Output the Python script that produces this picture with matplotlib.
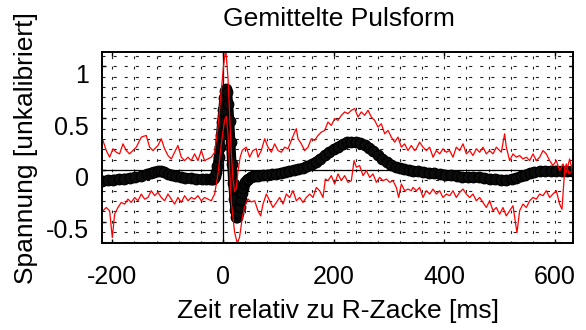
import numpy as np
import matplotlib
matplotlib.use("Agg")
import matplotlib.pyplot as plt
from matplotlib.transforms import ScaledTranslation

plt.rcParams['font.family'] = ['Liberation Sans', 'DejaVu Sans']
plt.rcParams['axes.unicode_minus'] = False
plt.rcParams['lines.scale_dashes'] = False

# averaged pulse (mean), time in ms relative to the R peak
t_mean = [-218, -208, -198, -188, -178, -168, -158, -148, -138, -130, -124, -118,
          -112, -106, -100, -92, -84, -76, -68, -58, -48, -38, -30, -24, -20, -18,
          -16, -14, -12, -10, -8, -6, -4, -2, 0, 2, 4, 6, 8, 10, 12, 14, 16, 18,
          20, 22, 24, 26, 28, 30, 32, 34, 36, 38, 40, 43, 46, 50, 54, 58, 64, 72,
          80, 88, 96, 104, 112, 120, 128, 136, 144, 152, 160, 168, 176, 184, 192,
          200, 208, 216, 224, 232, 240, 248, 256, 264, 272, 280, 288, 296, 304,
          312, 320, 328, 336, 344, 352, 362, 372, 382, 392, 402, 412, 422, 432,
          442, 452, 462, 472, 482, 492, 502, 512, 522, 530, 538, 546, 554, 562,
          572, 582, 592, 602, 612, 622, 630]
v_mean = [-0.104, -0.099, -0.093, -0.087, -0.083, -0.077, -0.070, -0.060, -0.042,
          -0.027, -0.016, -0.012, -0.015, -0.024, -0.035, -0.048, -0.060, -0.070,
          -0.075, -0.080, -0.085, -0.088, -0.090, -0.092, -0.092, -0.088, -0.078,
          -0.058, -0.02, 0.04, 0.12, 0.22, 0.34, 0.46, 0.58, 0.69, 0.76, 0.78, 0.75,
          0.64, 0.47, 0.27, 0.06, -0.13, -0.28, -0.39, -0.45, -0.45, -0.42, -0.36,
          -0.29, -0.22, -0.17, -0.14, -0.12, -0.10, -0.085, -0.07, -0.06, -0.058,
          -0.055, -0.05, -0.046, -0.042, -0.036, -0.03, -0.02, -0.01, 0.0, 0.01,
          0.02, 0.035, 0.055, 0.08, 0.11, 0.14, 0.17, 0.20, 0.225, 0.25, 0.265,
          0.272, 0.27, 0.262, 0.245, 0.215, 0.18, 0.145, 0.11, 0.075, 0.05, 0.03,
          0.015, 0.005, -0.002, -0.008, -0.014, -0.02, -0.027, -0.033, -0.04,
          -0.047, -0.053, -0.06, -0.065, -0.068, -0.07, -0.073, -0.078, -0.085,
          -0.09, -0.093, -0.095, -0.09, -0.075, -0.06, -0.045, -0.033, -0.022,
          -0.015, -0.01, -0.007, -0.006, -0.008, -0.01, -0.012]

# upper band (mean + spread)
t_upper = [-216.8, -210.8, -204.7, -198.7, -192.7, -186.7, -180.6, -174.6, -168.6,
           -162.6, -156.6, -147.5, -138.5, -132.5, -126.4, -117.4, -111.4, -105.4,
           -99.3, -93.3, -87.3, -81.3, -75.3, -69.2, -63.2, -57.2, -51.2, -45.2,
           -39.1, -33.1, -27.1, -21.1, -15.0, -9, -3, 1, 5, 9, 12, 15, 18, 21, 24,
           27, 31, 35, 42.2, 48.2, 54.2, 60.2, 63.3, 69.3, 75.4, 81.4, 87.4, 93.4,
           99.5, 105.5, 111.5, 117.5, 123.5, 129.6, 132.6, 135.6, 141.6, 147.6,
           153.7, 159.7, 165.7, 171.7, 177.7, 183.8, 189.8, 195.8, 201.8, 207.9,
           213.9, 219.9, 225.9, 232.0, 238.0, 244.0, 250.0, 256.0, 262.1, 268.1,
           274.1, 280.1, 286.1, 292.2, 298.2, 304.2, 310.2, 316.2, 322.3, 328.3,
           334.3, 340.3, 346.4, 349.3, 355.4, 361.4, 367.4, 373.4, 379.5, 385.5,
           391.5, 397.5, 403.5, 409.6, 415.6, 421.6, 427.6, 433.7, 439.7, 445.7,
           451.7, 457.7, 463.8, 469.8, 475.8, 481.8, 487.9, 493.9, 502.9, 508.9,
           511.9, 518.0, 524.0, 530.0, 536.0, 542.0, 548.1, 554.1, 560.1, 566.1,
           572.2, 578.2, 584.2, 590.2, 596.2, 602.3, 608.3, 614.3, 620.3, 626.4,
           631.2]
v_upper = [0.285, 0.187, 0.123, 0.204, 0.171, 0.155, 0.252, 0.187, 0.155, 0.187,
           0.220, 0.317, 0.333, 0.220, 0.187, 0.236, 0.301, 0.204, 0.139, 0.106,
           0.171, 0.236, 0.123, 0.090, 0.123, 0.090, 0.155, 0.090, 0.187, 0.090,
           0.106, 0.123, 0.17, 0.41, 0.76, 1.0, 1.17, 0.90, 0.55, 0.18, -0.08,
           -0.21, -0.18, -0.02, 0.12, 0.19, 0.220, 0.123, 0.187, 0.204, 0.123,
           0.187, 0.301, 0.220, 0.171, 0.252, 0.187, 0.171, 0.220, 0.204, 0.285,
           0.365, 0.398, 0.301, 0.252, 0.187, 0.220, 0.301, 0.285, 0.333, 0.365,
           0.382, 0.462, 0.430, 0.495, 0.479, 0.527, 0.560, 0.543, 0.576, 0.592,
           0.511, 0.560, 0.527, 0.576, 0.511, 0.479, 0.414, 0.446, 0.349, 0.382,
           0.317, 0.268, 0.317, 0.220, 0.252, 0.187, 0.236, 0.187, 0.204, 0.268,
           0.220, 0.187, 0.220, 0.123, 0.187, 0.155, 0.204, 0.171, 0.187, 0.123,
           0.220, 0.187, 0.252, 0.155, 0.187, 0.139, 0.204, 0.171, 0.220, 0.155,
           0.187, 0.155, 0.220, 0.171, 0.349, 0.220, 0.090, 0.155, 0.123, 0.139,
           0.106, 0.123, 0.090, 0.155, 0.090, 0.123, 0.187, 0.155, 0.090, 0.042,
           0.090, -0.007, 0.058, -0.023, 0.106, -0.007]

# lower band (mean - spread)
t_lower = [-216.8, -210.8, -204.7, -199.9, -195.7, -189.7, -183.7, -177.6, -171.6,
           -165.6, -159.6, -153.5, -147.5, -141.5, -135.5, -129.5, -123.4, -117.4,
           -111.4, -105.4, -99.3, -93.3, -87.3, -81.3, -75.3, -69.2, -63.2, -57.2,
           -51.2, -45.2, -39.1, -33.1, -27.1, -21.1, -15.0, -9, -3, 3, 6, 9, 11,
           15, 21, 26, 30, 35, 39, 45, 51, 57.3, 63.3, 68.1, 72.4, 78.4, 84.4, 90.4,
           96.4, 102.5, 108.5, 114.5, 120.5, 126.6, 132.6, 138.6, 144.6, 150.6,
           156.7, 162.7, 168.7, 174.7, 180.8, 185.0, 189.8, 195.8, 201.8, 207.9,
           213.9, 219.9, 225.9, 232.0, 236.8, 241.0, 247.0, 253.0, 259.0, 265.1,
           271.1, 277.1, 283.1, 289.2, 295.2, 301.2, 307.2, 313.2, 317.5, 322.3,
           328.3, 334.3, 340.3, 343.3, 349.3, 355.4, 361.4, 367.4, 373.4, 379.5,
           385.5, 391.5, 397.5, 403.5, 409.6, 415.6, 421.6, 427.6, 433.7, 439.7,
           445.7, 451.7, 457.7, 463.8, 469.8, 475.8, 481.8, 487.9, 493.9, 499.9,
           505.9, 511.9, 518.0, 524.0, 531.2, 536.0, 542.0, 548.1, 554.1, 560.1,
           566.1, 572.2, 578.2, 584.2, 590.2, 596.2, 602.3, 608.3, 612.5, 617.3,
           620.3, 625.2, 631.2]
v_lower = [-0.395, -0.363, -0.395, -0.654, -0.428, -0.363, -0.314, -0.330, -0.282,
           -0.314, -0.266, -0.298, -0.233, -0.282, -0.266, -0.201, -0.249, -0.217,
           -0.266, -0.298, -0.233, -0.282, -0.330, -0.266, -0.314, -0.249, -0.298,
           -0.266, -0.282, -0.249, -0.298, -0.266, -0.282, -0.298, -0.233, -0.04,
           0.25, 0.48, 0.52, 0.35, 0.12, -0.30, -0.60, -0.71, -0.65, -0.46, -0.36,
           -0.28, -0.31, -0.298, -0.395, -0.444, -0.330, -0.233, -0.298, -0.363,
           -0.314, -0.266, -0.330, -0.233, -0.266, -0.201, -0.298, -0.266, -0.314,
           -0.266, -0.233, -0.266, -0.169, -0.201, -0.266, -0.088, -0.104, -0.055,
           -0.136, -0.039, -0.104, -0.055, -0.120, -0.104, 0.090, 0.026, 0.042,
           -0.055, -0.007, -0.072, -0.039, -0.120, -0.072, -0.104, -0.088, -0.120,
           -0.104, -0.169, -0.266, -0.136, -0.201, -0.185, -0.201, -0.169, -0.201,
           -0.169, -0.266, -0.201, -0.233, -0.185, -0.233, -0.201, -0.266, -0.233,
           -0.249, -0.201, -0.266, -0.217, -0.185, -0.233, -0.266, -0.233, -0.298,
           -0.266, -0.314, -0.363, -0.298, -0.395, -0.363, -0.428, -0.363, -0.444,
           -0.395, -0.346, -0.606, -0.395, -0.330, -0.363, -0.298, -0.266, -0.282,
           -0.233, -0.249, -0.201, -0.266, -0.233, -0.201, -0.330, -0.379, -0.007,
           0.058, -0.039, -0.007]

x_ticks = [-200, 0, 200, 400, 600]
x_ticklabels = ['-200', '0', '200', '400', '600']
y_ticks = [-0.5, 0, 0.5, 1]
y_ticklabels = ['-0.5', '0', '0.5', '1']
x_range = (-217.6, 632.4)
y_range = (-0.706, 1.136)

fig = plt.figure(figsize=(5.86, 3.30), dpi=100)
ax = fig.add_axes([0.1749, 0.2636, 0.8029, 0.5779])
ax.set_xlim(*x_range)
ax.set_ylim(*y_range)

# dotted minor grid
for xv in np.arange(-200, 640, 40):
    ax.axvline(xv, color='#202020', lw=0.8, ls=(0.5, (2.0, 5.4)), zorder=1)
for yv in np.arange(-0.7, 1.15, 0.1):
    ax.axhline(yv, color='#202020', lw=0.8, ls=(0.0, (2.2, 5.8)), zorder=1)

# zero reference lines
ax.axvline(0, color='black', lw=0.9, zorder=2)
ax.axhline(0, color='black', lw=0.9, zorder=2)

# mean curve
ax.plot(t_mean, v_mean, color='black', lw=6.8, solid_capstyle='round',
        solid_joinstyle='round', zorder=3)
ax.plot(t_mean, v_mean, ls='none', marker='o', ms=7.6, mfc='#0c0c0c',
        mec='black', mew=0.9, zorder=4)

# spread band
ax.plot(t_upper, v_upper, color='#ff0000', lw=0.9, zorder=5)
ax.plot(t_lower, v_lower, color='#ff0000', lw=0.9, zorder=5)

ax.set_xticks(x_ticks)
ax.set_xticklabels(x_ticklabels)
ax.set_yticks(y_ticks)
ax.set_yticklabels(y_ticklabels)
ax.tick_params(axis='both', direction='in', length=3, width=1.0,
               top=True, right=True, labelsize=18)
ax.tick_params(axis='x', pad=15.5)
ax.tick_params(axis='y', pad=10)
shift = ScaledTranslation(0, -7 / 100, fig.dpi_scale_trans)
for lab in ax.get_yticklabels():
    lab.set_transform(lab.get_transform() + shift)

for sp in ax.spines.values():
    sp.set_linewidth(1.4)
    sp.set_zorder(6)

ax.set_xlabel('Zeit relativ zu R-Zacke [ms]', fontsize=19, va='baseline')
ax.xaxis.set_label_coords(0.5, -0.3933)
ax.set_ylabel('Spannung [unkalibriert]', fontsize=19, va='baseline')
ax.yaxis.set_label_coords(-0.1477, 0.5)

fig.text(0.5776, 1 - 26 / 330, 'Gemittelte Pulsform', fontsize=19,
         ha='center', va='baseline')

fig.savefig('out.png', dpi=100)
